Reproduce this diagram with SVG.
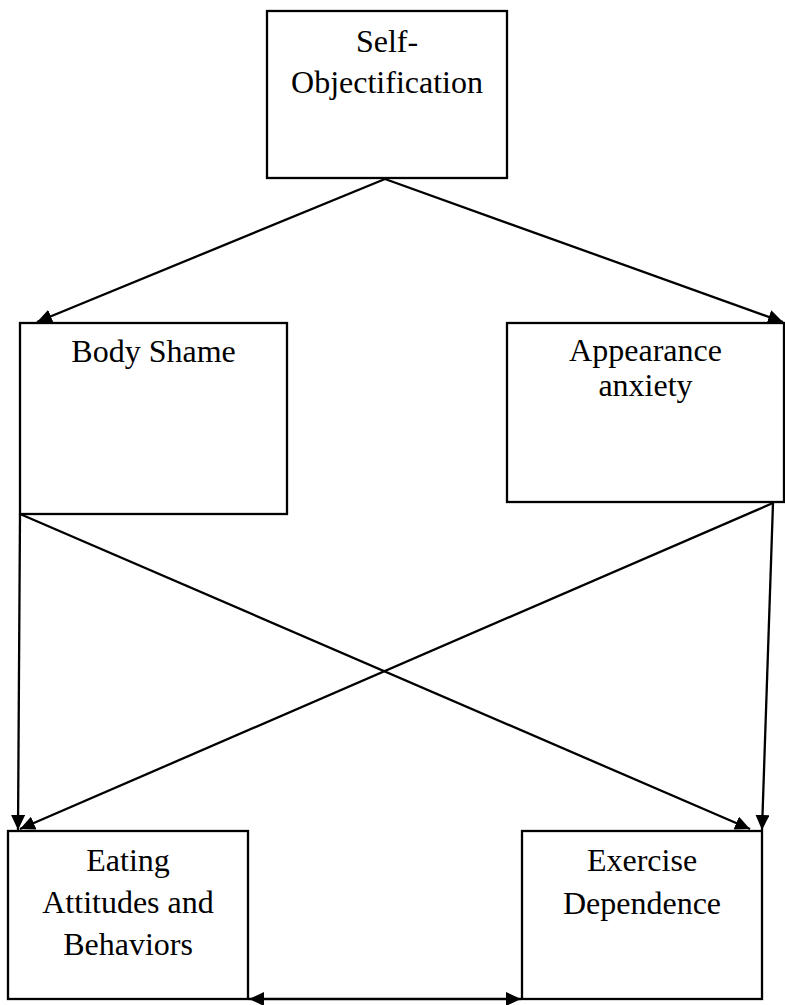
<svg xmlns="http://www.w3.org/2000/svg" width="785" height="1005" viewBox="0 0 785 1005">
<style>
.box{fill:#fff;stroke:#000;stroke-width:2.3}
.lbl{font-family:"Liberation Serif","Times New Roman",serif;font-size:32px;fill:#000;text-anchor:middle}
.con{stroke:#000;stroke-width:2.3;fill:none}
</style>
<defs>
<marker id="ah" markerUnits="userSpaceOnUse" markerWidth="16" markerHeight="14" refX="15" refY="7" orient="auto-start-reverse">
<path d="M0,0 L15,7 L0,14 z" fill="#000"/>
</marker>
</defs>
<rect width="785" height="1005" fill="#fff"/>
<g id="self-objectification">
<rect class="box" x="267" y="11" width="240" height="167"/>
<text class="lbl" x="387" y="52">Self-</text>
<text class="lbl" x="387" y="93">Objectification</text>
</g>
<g id="body-shame">
<rect class="box" x="20" y="323" width="267" height="191"/>
<text class="lbl" x="153.5" y="362">Body Shame</text>
</g>
<g id="appearance-anxiety">
<rect class="box" x="507" y="323" width="277" height="179"/>
<text class="lbl" x="645.5" y="361">Appearance</text>
<text class="lbl" x="645.5" y="396">anxiety</text>
</g>
<g id="eating">
<rect class="box" x="8" y="831" width="240" height="168"/>
<text class="lbl" x="128" y="871">Eating</text>
<text class="lbl" x="128" y="913">Attitudes and</text>
<text class="lbl" x="128" y="955">Behaviors</text>
</g>
<g id="exercise">
<rect class="box" x="522" y="831" width="240" height="168"/>
<text class="lbl" x="642" y="871">Exercise</text>
<text class="lbl" x="642" y="914">Dependence</text>
</g>
<g id="connectors">
<line class="con" x1="385" y1="179" x2="37" y2="322" marker-end="url(#ah)"/>
<line class="con" x1="385" y1="179" x2="783" y2="322" marker-end="url(#ah)"/>
<line class="con" x1="20" y1="514" x2="18" y2="830" marker-end="url(#ah)"/>
<line class="con" x1="20" y1="514" x2="750" y2="829" marker-end="url(#ah)"/>
<line class="con" x1="773" y1="503" x2="20" y2="829" marker-end="url(#ah)"/>
<line class="con" x1="773" y1="503" x2="762" y2="830" marker-end="url(#ah)"/>
<line class="con" x1="249" y1="999" x2="521" y2="999" marker-start="url(#ah)" marker-end="url(#ah)"/>
</g>
</svg>
